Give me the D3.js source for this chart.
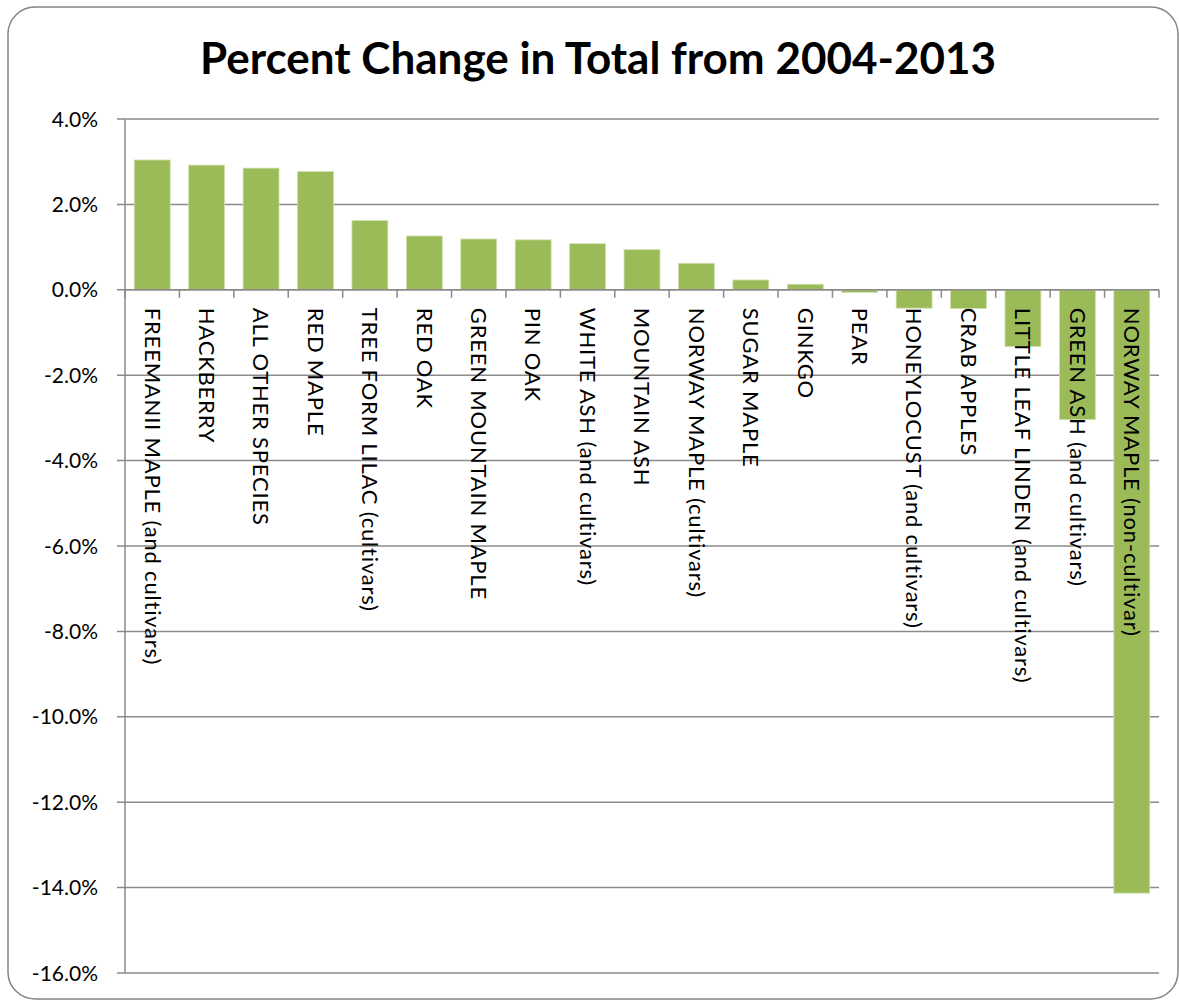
<!DOCTYPE html>
<html lang="en">
<head>
<meta charset="utf-8">
<style>
  html, body { margin: 0; padding: 0; background: #fff; }
  svg { display: block; }
  text { font-family: Lato, "Open Sans", sans-serif; fill: #000; }
</style>
<script src="https://cdn.jsdelivr.net/npm/d3@7"></script>
</head>
<body>
<div id="chart"></div>
<script>
// species, in the order shown
var categories = [
  "FREEMANII MAPLE (and cultivars)",
  "HACKBERRY",
  "ALL OTHER SPECIES",
  "RED MAPLE",
  "TREE FORM LILAC (cultivars)",
  "RED OAK",
  "GREEN MOUNTAIN MAPLE",
  "PIN OAK",
  "WHITE ASH (and cultivars)",
  "MOUNTAIN ASH",
  "NORWAY MAPLE (cultivars)",
  "SUGAR MAPLE",
  "GINKGO",
  "PEAR",
  "HONEYLOCUST (and cultivars)",
  "CRAB APPLES",
  "LITTLE LEAF LINDEN (and cultivars)",
  "GREEN ASH (and cultivars)",
  "NORWAY MAPLE (non-cultivar)"
];

// percent change 2004-2013
var values = [3.04, 2.92, 2.85, 2.77, 1.62, 1.26, 1.19, 1.17, 1.08, 0.94,
  0.62, 0.23, 0.13, -0.06, -0.43, -0.44, -1.33, -3.04, -14.13];

var yTicks = [4, 2, 0, -2, -4, -6, -8, -10, -12, -14, -16];
var title = "Percent Change in Total from 2004-2013";

var width = 1179,
    height = 1000,
    margin = {top: 119, right: 20, bottom: 27, left: 125};

var svg = d3.select("#chart").append("svg")
    .attr("width", width)
    .attr("height", height);

// outer frame
svg.append("rect")
    .attr("x", 8).attr("y", 7)
    .attr("width", 1170).attr("height", 992)
    .attr("rx", 27).attr("ry", 27)
    .attr("fill", "#fff")
    .attr("stroke", "#858585")
    .attr("stroke-width", 1.5);

svg.append("text")
    .attr("x", 598).attr("y", 74)
    .attr("text-anchor", "middle")
    .style("font-size", "44px")
    .style("font-weight", "bold")
    .text(title);

var x = d3.scaleBand()
    .domain(categories)
    .range([margin.left, 1159])
    .paddingInner(0.34)
    .paddingOuter(0.17);

var y = d3.scaleLinear()
    .domain([-16, 4])
    .range([height - margin.bottom, margin.top]);

// gridlines + y tick marks
svg.append("g").selectAll("line")
    .data(yTicks)
    .join("line")
    .attr("x1", margin.left - 8)
    .attr("x2", 1159)
    .attr("y1", d => y(d))
    .attr("y2", d => y(d))
    .attr("stroke", "#8a8a8a")
    .attr("stroke-width", 1.5);

svg.append("g").selectAll("text")
    .data(yTicks)
    .join("text")
    .attr("x", 98)
    .attr("y", d => y(d))
    .attr("dy", "0.36em")
    .attr("text-anchor", "end")
    .style("font-size", "21px")
    .text(d => d.toFixed(1) + "%");

// bars
svg.append("g").selectAll("rect")
    .data(values)
    .join("rect")
    .attr("x", (d, i) => x(categories[i]))
    .attr("width", x.bandwidth())
    .attr("y", d => y(Math.max(0, d)))
    .attr("height", d => Math.abs(y(d) - y(0)))
    .attr("fill", "#9bbb59")
    .attr("stroke", "#cfe0ac")
    .attr("stroke-width", 0.8);

// y axis line
svg.append("line")
    .attr("x1", margin.left).attr("x2", margin.left)
    .attr("y1", y(4)).attr("y2", y(-16))
    .attr("stroke", "#8a8a8a")
    .attr("stroke-width", 1.5);

// x axis line with ticks at category boundaries
var step = x.step();
var bounds = d3.range(categories.length + 1).map(i => margin.left + i * step);
svg.append("line")
    .attr("x1", margin.left).attr("x2", 1159)
    .attr("y1", y(0)).attr("y2", y(0))
    .attr("stroke", "#8a8a8a")
    .attr("stroke-width", 1.5);
svg.append("g").selectAll("line")
    .data(bounds)
    .join("line")
    .attr("x1", d => d).attr("x2", d => d)
    .attr("y1", y(0)).attr("y2", y(0) + 8)
    .attr("stroke", "#8a8a8a")
    .attr("stroke-width", 1.5);

// rotated category labels
svg.append("g").selectAll("text")
    .data(categories)
    .join("text")
    .attr("transform", d => "translate(" + (x(d) + x.bandwidth() / 2) + "," + (y(0) + 18) + ") rotate(90)")
    .attr("dy", "0.35em")
    .style("font-size", "22px")
    .style("letter-spacing", "0.8px")
    .text(d => d);
</script>
</body>
</html>
